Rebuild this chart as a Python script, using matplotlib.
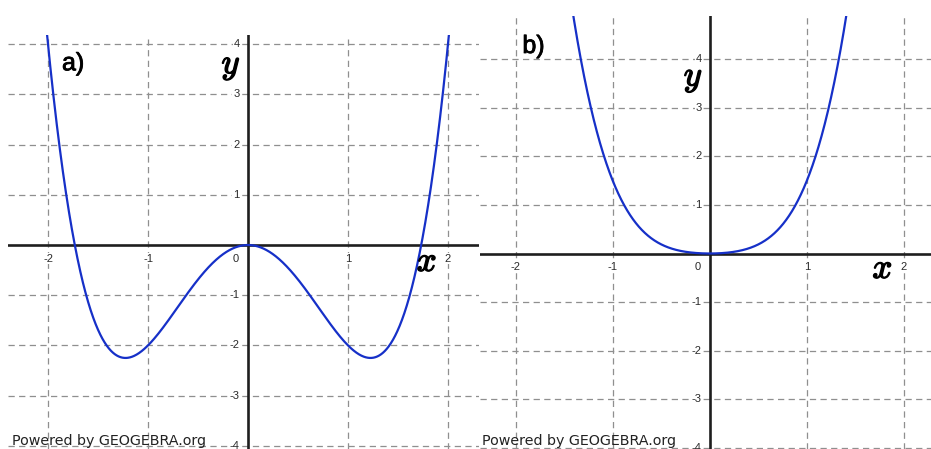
import numpy as np
import matplotlib
matplotlib.use("Agg")
import matplotlib.pyplot as plt
import matplotlib.patheffects as pe

# Polynomial coefficients (highest power first) of the two plotted functions
coef_a = [1.0, 0.0, -3.0, 0.0, 0.0]   # f(x) = x^4 - 3x^2
coef_b = [1.0, 0.0, 0.5, 0.0, 0.0]    # g(x) = x^4 + 0.5x^2

panel_labels = ["a)", "b)"]
x_ticks = [-2, -1, 1, 2]
y_ticks_a = [-4, -3, -2, -1, 1, 2, 3, 4]
y_ticks_b = [-4, -3, -2, -1, 1, 2, 3, 4]
credit = "Powered by GEOGEBRA.org"

W, H = 931, 449
fig = plt.figure(figsize=(W / 100, H / 100), dpi=100)
fig.patch.set_facecolor("white")

CURVE = "#1630c8"
GRID = "#8f8f8f"
AXIS = "#1e1e1e"
LABEL = "#2a2a2a"
plt.rcParams["mathtext.fontset"] = "cm"


def px_axes(left, right, top, bottom):
    return fig.add_axes([left / W, 1 - bottom / H, (right - left) / W, (bottom - top) / H])


def draw_panel(ax, coef, xlim, ylim, yticks, label, label_xy, ylab_xy, xlab_xy):
    ax.set_xlim(*xlim)
    ax.set_ylim(*ylim)
    ax.set_axis_off()
    # dashed grid
    for xv in x_ticks:
        ax.axvline(xv, color=GRID, lw=0.9, dashes=(5, 3.5), zorder=1)
    for yv in yticks:
        ax.axhline(yv, color=GRID, lw=0.9, dashes=(5, 3.5), zorder=1)
    # axes
    ax.axhline(0, color=AXIS, lw=1.9, zorder=3)
    ax.axvline(0, color=AXIS, lw=1.9, zorder=3)
    # function curve
    xs = np.linspace(xlim[0], xlim[1], 2000)
    ax.plot(xs, np.polyval(coef, xs), color=CURVE, lw=1.6, zorder=4,
            solid_capstyle="round")
    # tick labels
    bb = dict(facecolor="white", edgecolor="none", pad=0.6)
    for xv in x_ticks:
        ax.text(xv, -0.27, str(xv), ha="center", va="center",
                fontsize=8, color=LABEL, family="Liberation Sans", bbox=bb, zorder=2)
    ax.text(-0.12, -0.27, "0", ha="center", va="center", fontsize=8,
            color=LABEL, family="Liberation Sans", zorder=2)
    for yv in yticks:
        ax.text(-0.085, yv, str(yv), ha="right", va="center", fontsize=8,
                color=LABEL, family="Liberation Sans", bbox=bb, zorder=2)
    # axis names and panel tag
    stroke = [pe.withStroke(linewidth=1.0, foreground="black")]
    ax.text(*ylab_xy, r"$y$", ha="center", va="center", fontsize=25,
            color="black", path_effects=stroke, zorder=5)
    ax.text(*xlab_xy, r"$x$", ha="center", va="center", fontsize=25,
            color="black", path_effects=stroke, zorder=5)
    ax.text(*label_xy, label, ha="left", va="center", fontsize=18,
            family="Liberation Sans", color="black", zorder=5,
            path_effects=[pe.withStroke(linewidth=0.6, foreground="black")])


# left panel: 100 px per unit in x, 50 px per unit in y
ax_a = px_axes(8, 479, 35, 449)
draw_panel(ax_a, coef_a,
           xlim=((8 - 248) / 100, (479 - 248) / 100),
           ylim=((245 - 449) / 50.2, (245 - 35) / 50.2),
           yticks=y_ticks_a, label=panel_labels[0],
           label_xy=(-1.86, 3.62), ylab_xy=(-0.17, 3.58), xlab_xy=(1.79, -0.32))

# right panel
ax_b = px_axes(480, 931, 16, 449)
draw_panel(ax_b, coef_b,
           xlim=((480 - 709.8) / 97.1, (931 - 709.8) / 97.1),
           ylim=((253.5 - 449) / 48.6, (253.5 - 16) / 48.6),
           yticks=y_ticks_b, label=panel_labels[1],
           label_xy=(-1.93, 4.27), ylab_xy=(-0.17, 3.62), xlab_xy=(1.78, -0.30))

for x0 in (12, 482):
    fig.text(x0 / W, (H - 445) / H, credit, ha="left", va="baseline",
             fontsize=10.3, family="DejaVu Sans", color="#222222")

fig.savefig("out.png", dpi=100, facecolor="white")
